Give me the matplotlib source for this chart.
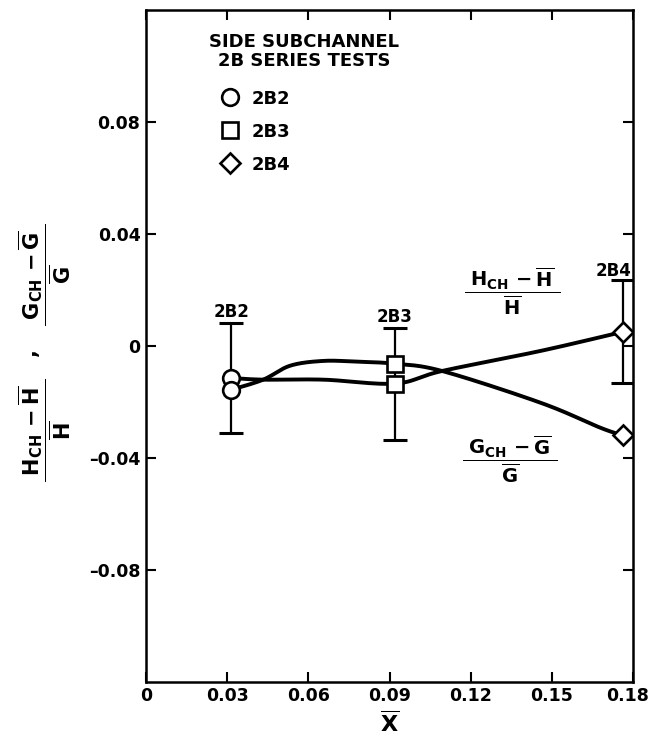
import numpy as np
import matplotlib
matplotlib.use("Agg")
import matplotlib.pyplot as plt
from matplotlib.lines import Line2D
from matplotlib.transforms import ScaledTranslation

plt.rcParams["font.family"] = ["DejaVu Sans"]
plt.rcParams["mathtext.fontset"] = "dejavusans"
plt.rcParams["mathtext.default"] = "bf"

# ---- data -------------------------------------------------------------
tests = ["2B2", "2B3", "2B4"]
markers = ["o", "s", "D"]
x_quality = [0.0315, 0.0920, 0.1763]          # mean quality X-bar per test
h_dev = [-0.0115, -0.0135, 0.0050]            # (H_CH - H)/H
h_err = [0.0197, 0.0200, 0.0184]              # uncertainty band on enthalpy deviation
g_dev = [-0.0157, -0.0064, -0.0320]           # (G_CH - G)/G

# hand-faired trend curves through the test points
fit_h_x = [0.0315, 0.0433, 0.0656, 0.0920, 0.1094, 0.1460, 0.1763]
fit_h_y = [-0.0115, -0.0121, -0.0121, -0.0135, -0.0090, -0.0018, 0.0050]
fit_g_x = [0.0315, 0.0433, 0.0533, 0.0656, 0.0780, 0.0920, 0.1094, 0.1460, 0.1680, 0.1763]
fit_g_y = [-0.0157, -0.0121, -0.0071, -0.0054, -0.0057, -0.0064, -0.0090, -0.0204, -0.0293, -0.0320]

x_ticks = [0, 0.03, 0.06, 0.09, 0.12, 0.15, 0.18]
x_tick_labels = ["0", "0.03", "0.06", "0.09", "0.12", "0.15", "0.18"]
y_ticks = [-0.08, -0.04, 0, 0.04, 0.08]
y_tick_labels = ["\u20130.08", "\u20130.04", "0", "0.04", "0.08"]


def catmull_rom(xs, ys, n=30):
    p = np.column_stack([xs, ys]).astype(float)
    p = np.vstack([p[0], p, p[-1]])
    out = []
    t = np.linspace(0, 1, n)[:, None]
    for i in range(1, len(p) - 2):
        p0, p1, p2, p3 = p[i - 1], p[i], p[i + 1], p[i + 2]
        seg = 0.5 * ((2 * p1) + (-p0 + p2) * t + (2 * p0 - 5 * p1 + 4 * p2 - p3) * t ** 2
                     + (-p0 + 3 * p1 - 3 * p2 + p3) * t ** 3)
        out.append(seg if i == 1 else seg[1:])
    out = np.vstack(out)
    return out[:, 0], out[:, 1]


fig = plt.figure(figsize=(6.52, 7.42), dpi=100)
ax = fig.add_axes([0.224, 0.081, 0.747, 0.906])
ax.set_xlim(0, 0.18)
ax.set_ylim(-0.12, 0.12)

for s in ax.spines.values():
    s.set_linewidth(1.8)

ax.set_xticks(x_ticks)
ax.set_xticklabels(x_tick_labels)
ax.set_yticks(y_ticks)
ax.set_yticklabels(y_tick_labels)
ax.tick_params(direction="in", length=7, width=1.5, top=True, right=True,
               labelsize=12.5, pad=4)
for lab in ax.get_xticklabels() + ax.get_yticklabels():
    lab.set_fontweight("bold")
# pull the last x label in so it stays on the page
last = ax.get_xticklabels()[-1]
last.set_transform(last.get_transform() + ScaledTranslation(-4 / 72, 0, fig.dpi_scale_trans))

# faired curves
hx, hy = catmull_rom(fit_h_x, fit_h_y)
gx, gy = catmull_rom(fit_g_x, fit_g_y)
ax.plot(hx, hy, color="black", lw=2.8, zorder=2, solid_capstyle="round")
ax.plot(gx, gy, color="black", lw=2.8, zorder=2, solid_capstyle="round")

# uncertainty bars on the enthalpy deviation
ax.errorbar(x_quality, h_dev, yerr=h_err, fmt="none", ecolor="black",
            elinewidth=1.6, capsize=8.5, capthick=2.2, zorder=1)

# test points
for xq, h, g, m in zip(x_quality, h_dev, g_dev, markers):
    ms = 10.5 if m == "D" else 12
    ax.plot([xq], [h], marker=m, ms=ms, mfc="white", mec="black", mew=1.9,
            ls="none", zorder=4)
    ax.plot([xq], [g], marker=m, ms=ms, mfc="white", mec="black", mew=1.9,
            ls="none", zorder=5)

# test labels above the bars
offsets = [(0, 1.0), (0, 1.0), (-7, 0.5)]
for t, xq, h, e, off in zip(tests, x_quality, h_dev, h_err, offsets):
    ax.annotate(t, (xq, h + e), xytext=off, textcoords="offset points",
                ha="center", va="bottom", fontsize=12, fontweight="bold")

# curve identifications
ax.text(0.1353, 0.0195, r"$\dfrac{\,\,H_{CH}\,-\overline{H}\,\,}{\overline{H}}$",
        ha="center", va="center", fontsize=14)
ax.text(0.1345, -0.0405, r"$\dfrac{\,\,G_{CH}\,-\overline{G}\,\,}{\overline{G}}$",
        ha="center", va="center", fontsize=14)

# legend block
ax.text(0.3244, 0.9375, "SIDE SUBCHANNEL\n2B SERIES TESTS", transform=ax.transAxes,
        ha="center", va="center", multialignment="center", fontsize=13,
        fontweight="bold", linespacing=1.1)
handles = [Line2D([], [], marker=m, ms=(10.5 if m == "D" else 12), mfc="white",
                  mec="black", mew=1.9, ls="none") for m in markers]
leg = ax.legend(handles, tests, loc="upper left", bbox_to_anchor=(0.150, 0.881),
                frameon=False, borderpad=0, borderaxespad=0, handlelength=1.2,
                handletextpad=0.6, labelspacing=0.83, prop={"size": 13, "weight": "bold"})

# axis titles
ax.set_xlabel(r"$\overline{X}$", fontsize=16, labelpad=4)
fig.text(45 / 652, 1 - 430 / 742, r"$\dfrac{\,\,H_{CH}\,-\overline{H}\,\,}{\overline{H}}$",
         rotation=90, ha="center", va="center", fontsize=15)
fig.text(45 / 652, 1 - 275 / 742, r"$\dfrac{\,\,G_{CH}\,-\overline{G}\,\,}{\overline{G}}$",
         rotation=90, ha="center", va="center", fontsize=15)
fig.text(30 / 652, 1 - 352 / 742, ",", rotation=90, ha="center", va="center",
         fontsize=15, fontweight="bold")

fig.savefig("out.png", dpi=100)
